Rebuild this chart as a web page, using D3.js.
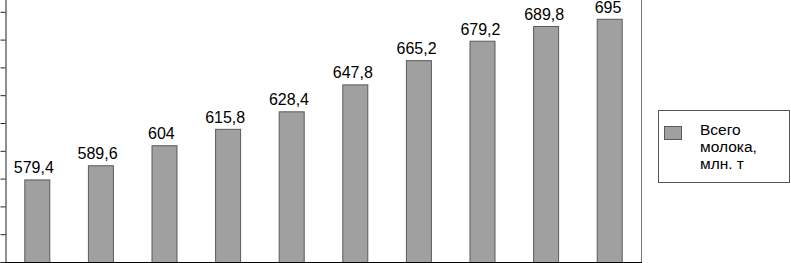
<!DOCTYPE html>
<html><head><meta charset="utf-8">
<script src="https://cdn.jsdelivr.net/npm/d3@7"></script>
<style>body{margin:0;background:#fff;}svg{display:block;font-family:"Liberation Sans",Arial,sans-serif;}</style>
</head><body>
<svg id="c" width="791" height="263"></svg>
<script>
const categories = ["1","2","3","4","5","6","7","8","9","10"];
const values = [579.4, 589.6, 604, 615.8, 628.4, 647.8, 665.2, 679.2, 689.8, 695];
const labels = ["579,4","589,6","604","615,8","628,4","647,8","665,2","679,2","689,8","695"];
const yTicks = [520,540,560,580,600,620,640,660,680,700,720];
const legendLines = ["Всего","молока,","млн. т"];

const svg = d3.select("#c");
const x = d3.scaleBand().domain(categories).range([5, 641]).paddingInner(0.6).paddingOuter(0.3);
const y = d3.scaleLinear().domain([520, 720]).range([262, 262 - 10*27.8]);

svg.append("line").attr("x1",641.5).attr("x2",641.5).attr("y1",y(720)).attr("y2",262)
  .attr("stroke","#777").attr("stroke-width",1);

const bw = 25;
svg.selectAll("rect.bar").data(values).join("rect").attr("class","bar")
  .attr("x",(d,i)=>x(categories[i]) + x.bandwidth()/2 - bw/2 + 0.5)
  .attr("y",d=>y(d)+0.5)
  .attr("width",bw)
  .attr("height",d=>262 - y(d))
  .attr("fill","#a0a0a0").attr("stroke","#5a5a5a").attr("stroke-width",1);

svg.selectAll("text.lab").data(values).join("text").attr("class","lab")
  .attr("x",(d,i)=>x(categories[i]) + x.bandwidth()/2 - 3 + i*0.2)
  .attr("y",d=>y(d)-6)
  .attr("text-anchor","middle").attr("font-size",16).attr("fill","#000")
  .text((d,i)=>labels[i]);

const ax = d3.axisLeft(y).tickValues(yTicks).tickSize(5).tickFormat("");
svg.append("g").attr("transform","translate(5.5,0)").call(ax)
  .call(g=>g.selectAll("line,path").attr("stroke","#222"));

svg.append("line").attr("x1",5).attr("x2",642).attr("y1",262.5).attr("y2",262.5).attr("stroke","#000");

const lg = svg.append("g");
lg.append("rect").attr("x",658.5).attr("y",110.5).attr("width",131).attr("height",72)
  .attr("fill","#fff").attr("stroke","#555");
lg.append("rect").attr("x",664.5).attr("y",126.5).attr("width",17).attr("height",13)
  .attr("fill","#a0a0a0").attr("stroke","#5a5a5a");
const ly = [135, 152, 169];
lg.selectAll("text").data(legendLines).join("text")
  .attr("x",700).attr("y",(d,i)=>ly[i]).attr("font-size",15.5).text(d=>d);
</script>
</body></html>
